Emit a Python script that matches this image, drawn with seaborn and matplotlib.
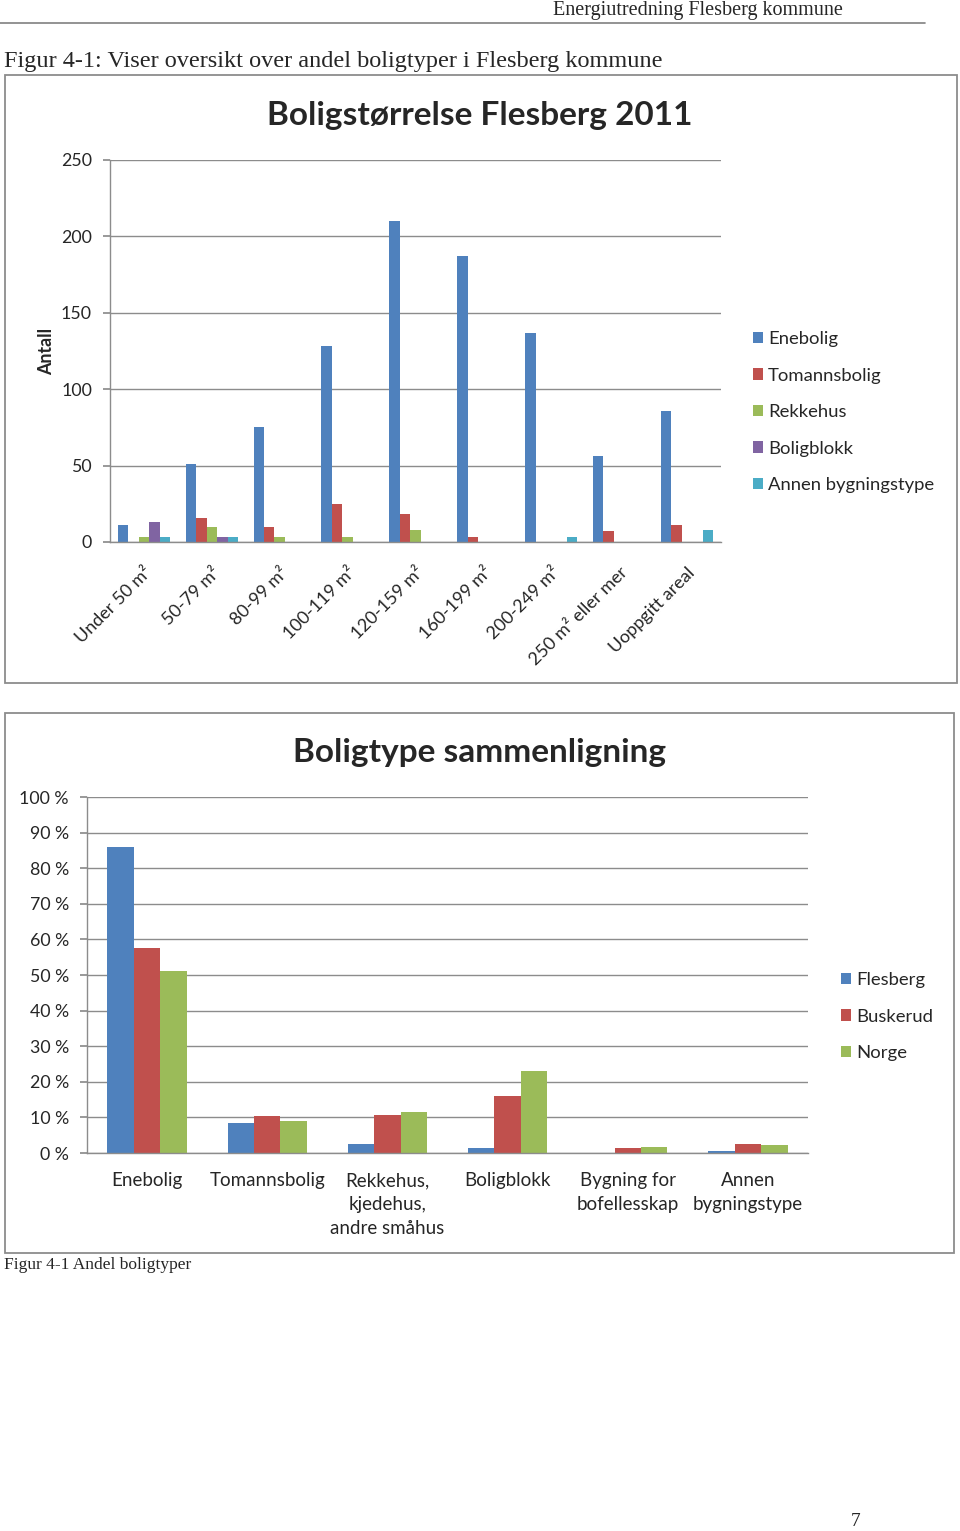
import pandas as pd
import seaborn as sns
import matplotlib.pyplot as plt
from matplotlib.patches import Rectangle
from matplotlib.lines import Line2D

# data
size_classes = ["Under 50 m²", "50-79 m²", "80-99 m²", "100-119 m²", "120-159 m²",
                "160-199 m²", "200-249 m²", "250 m² eller mer", "Uoppgitt areal"]
house_types = ["Enebolig", "Tomannsbolig", "Rekkehus", "Boligblokk", "Annen bygningstype"]
enebolig = [11, 51, 75, 128, 210, 187, 137, 56, 86]
tomannsbolig = [0, 16, 10, 25, 18, 3, 0, 7, 11]
rekkehus = [3, 10, 3, 3, 8, 0, 0, 0, 0]
boligblokk = [13, 3, 0, 0, 0, 0, 0, 0, 0]
annen = [3, 3, 0, 0, 0, 0, 3, 0, 8]

compare_cats = ["Enebolig", "Tomannsbolig", "Rekkehus,\nkjedehus,\nandre småhus", "Boligblokk",
                "Bygning for\nbofellesskap", "Annen\nbygningstype"]
regions = ["Flesberg", "Buskerud", "Norge"]
flesberg = [86, 8.5, 2.5, 1.3, 0, 0.5]
buskerud = [57.6, 10.4, 10.7, 16.1, 1.3, 2.4]
norge = [51, 9, 11.4, 23.1, 1.6, 2.2]

colors5 = ["#4F81BD", "#C0504D", "#9BBB59", "#8064A2", "#4BACC6"]
colors3 = colors5[:3]

W, H = 960, 1531
sns.set_theme(style="white")
plt.rcParams['font.family'] = ['Lato', 'DejaVu Sans']

fig = plt.figure(figsize=(W / 100, H / 100), dpi=100)
fig.patch.set_facecolor("white")


def fx(x):
    return x / W


def fy(y):
    return 1 - y / H


def box(x0, y0, x1, y1):
    return [fx(x0), fy(y1), fx(x1) - fx(x0), fy(y0) - fy(y1)]


# page elements
serif = ['Liberation Serif', 'DejaVu Serif']
fig.text(fx(843), fy(10), "Energiutredning Flesberg kommune", ha="right", va="center",
         fontsize=14.5, family=serif)
fig.add_artist(Line2D([0, fx(925)], [fy(23), fy(23)], color="#808080", lw=1.2))
fig.text(fx(4), fy(61), "Figur 4-1: Viser oversikt over andel boligtyper i Flesberg kommune",
         ha="left", va="center", fontsize=17.5, family=serif)
fig.text(fx(4), fy(1265), "Figur 4-1 Andel boligtyper", ha="left", va="center",
         fontsize=12.5, family=serif)
fig.text(fx(856), fy(1522), "7", ha="center", va="center", fontsize=14, family=serif)

for (x0, y0, x1, y1) in [(5, 75, 957, 683), (5, 713, 954, 1253)]:
    fig.add_artist(Rectangle((fx(x0), fy(y1)), fx(x1) - fx(x0), fy(y0) - fy(y1),
                             fill=False, edgecolor="#8c8c8c", lw=1.3))


def style_axis(ax):
    ax.grid(axis="y", color="#8c8c8c", lw=1)
    ax.set_axisbelow(True)
    for s in ["top", "right"]:
        ax.spines[s].set_visible(False)
    for s in ["left", "bottom"]:
        ax.spines[s].set_color("#8c8c8c")
        ax.spines[s].set_linewidth(1)
    ax.tick_params(axis="y", length=5, color="#8c8c8c", left=True, labelsize=12.8, pad=8)
    ax.tick_params(axis="x", length=0)
    ax.set_xlabel("")


legend_kw = dict(loc="upper left", frameon=False, fontsize=13.3, handlelength=0.55,
                 handleheight=0.55, handletextpad=0.25, labelspacing=1.11, borderaxespad=0,
                 borderpad=0)

# chart 1
df1 = pd.DataFrame({
    "kategori": size_classes * 5,
    "type": sum([[t] * len(size_classes) for t in house_types], []),
    "antall": enebolig + tomannsbolig + rekkehus + boligblokk + annen,
})
ax1 = fig.add_axes(box(110, 160, 721, 542))
sns.barplot(data=df1, x="kategori", y="antall", hue="type", palette=colors5, width=0.77,
            saturation=1, linewidth=0, ax=ax1, legend=True)
ax1.set_ylim(0, 250)
ax1.set_yticks(range(0, 251, 50))
ax1.set_xlim(-0.5, len(size_classes) - 0.5)
style_axis(ax1)
ax1.set_ylabel("Antall", fontsize=12.8, fontweight="bold", labelpad=4)
ax1.set_xticks(range(len(size_classes)))
ax1.set_xticklabels(size_classes, rotation=45, ha="right", rotation_mode="anchor", fontsize=13)
ax1.tick_params(axis="x", pad=16)
h, l = ax1.get_legend_handles_labels()
ax1.get_legend().remove()
fig.legend(h, l, bbox_to_anchor=(fx(753), fy(331)), **legend_kw)
fig.text(fx(480), fy(115), "Boligstørrelse Flesberg 2011", ha="center", va="center",
         fontsize=24, fontweight="bold")

# chart 2
df2 = pd.DataFrame({
    "kategori": compare_cats * 3,
    "region": sum([[r] * len(compare_cats) for r in regions], []),
    "andel": flesberg + buskerud + norge,
})
ax2 = fig.add_axes(box(87, 797, 808, 1153))
sns.barplot(data=df2, x="kategori", y="andel", hue="region", palette=colors3, width=0.66,
            saturation=1, linewidth=0, ax=ax2, legend=True)
ax2.set_ylim(0, 100)
ax2.set_yticks(range(0, 101, 10))
ax2.set_yticklabels([f"{v} %" for v in range(0, 101, 10)])
ax2.set_xlim(-0.5, len(compare_cats) - 0.5)
style_axis(ax2)
ax2.set_ylabel("")
ax2.tick_params(axis="x", labelsize=13.5, pad=14)
for t in ax2.get_xticklabels():
    t.set_linespacing(1.5)
h, l = ax2.get_legend_handles_labels()
ax2.get_legend().remove()
fig.legend(h, l, bbox_to_anchor=(fx(841), fy(972)), **legend_kw)
fig.text(fx(480), fy(752), "Boligtype sammenligning", ha="center", va="center",
         fontsize=24, fontweight="bold")

fig.savefig("out.png", dpi=100)
